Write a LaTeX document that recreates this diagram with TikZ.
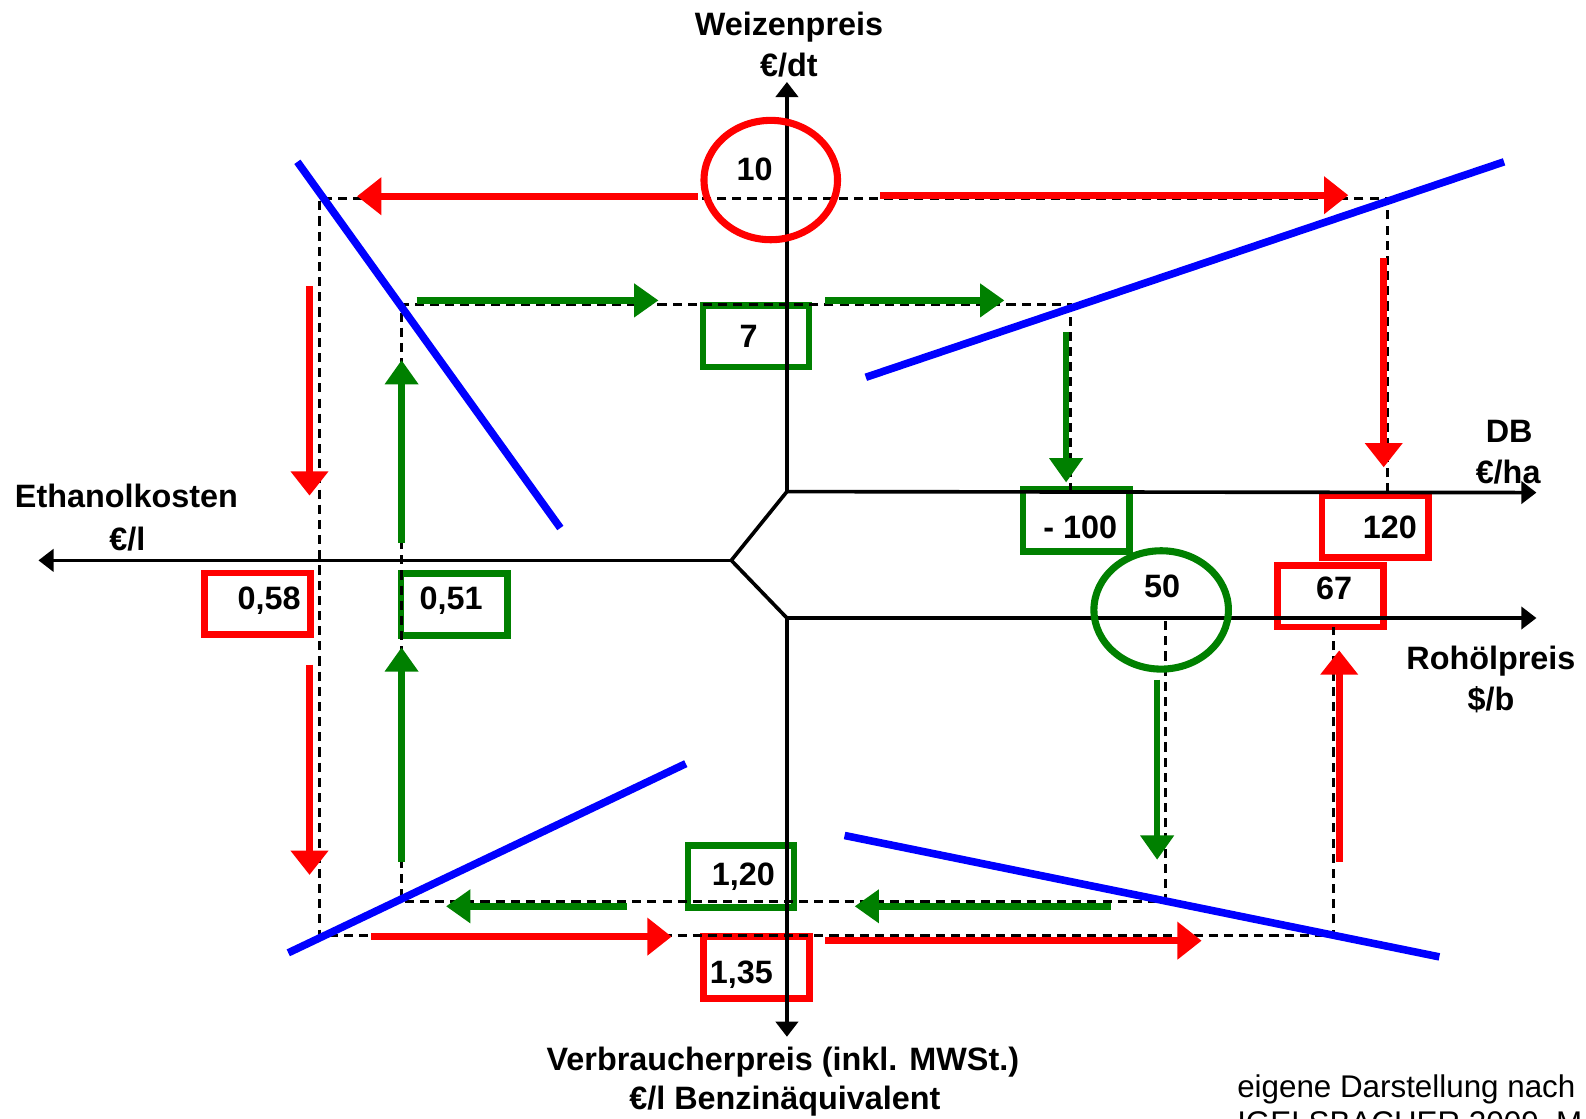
\documentclass[tikz,border=0pt]{standalone}
\usepackage{fontspec}
\setmainfont{Liberation Sans}
\usetikzlibrary{arrows.meta,shapes.geometric}
\definecolor{myred}{RGB}{255,0,0}
\definecolor{mygreen}{RGB}{0,128,0}
\definecolor{myblue}{RGB}{0,0,255}
\begin{document}
\begin{tikzpicture}[x=1pt,y=-1pt,
  axis/.style={line width=3.6pt},
  axisarrow/.style={axis,-{Triangle[length=15pt,width=22pt]}},
  guide/.style={line width=2.7pt,dash pattern=on 9pt off 6pt},
  curve/.style={myblue,line width=7.5pt},
  redarrow/.style={myred,line width=6.5pt,-{Triangle[length=24pt,width=36pt]}},
  greenarrow/.style={mygreen,line width=6.5pt,-{Triangle[length=24pt,width=32pt]}},
  valbox/.style={rectangle,line width=6.5pt,inner sep=0pt,minimum width=105pt,minimum height=61pt,fill=white},
  redbox/.style={valbox,draw=myred},
  greenbox/.style={valbox,draw=mygreen},
  ring/.style={ellipse,line width=7pt,inner sep=0pt},
  num/.style={font=\fontsize{32}{38}\selectfont\bfseries,anchor=base,inner sep=0pt},
  lbl/.style={font=\fontsize{32}{38}\selectfont\bfseries,anchor=base,inner sep=0pt},
  src/.style={font=\fontsize{31}{36}\selectfont,anchor=base west,inner sep=0pt},
]
\useasboundingbox (0,0) rectangle (1568,1106);

% guide coordinates
\coordinate (A) at (316,196);
\coordinate (B) at (1372,196);
\coordinate (C) at (316,925);
\coordinate (D) at (1318,925);
\coordinate (E) at (1318,620);
\coordinate (F) at (1372,487);
\coordinate (G) at (397,301);
\coordinate (H) at (1058,301);
\coordinate (I) at (397,891);
\coordinate (J) at (1152,891);
\coordinate (K) at (1152,611);
\coordinate (L) at (1058,487);

% boxes (drawn first, under guides)
\node[redbox] (b058) at (254.5,597) {};
\node[greenbox] (b051) at (449,597.5) {};
\node[greenbox] (b7) at (747.5,332.5) {};
\node[greenbox] (b100) at (1064,514.5) {};
\node[redbox] (b120) at (1359.5,520.5) {};
\node[redbox] (b67) at (1315.5,589.5) {};
\node[greenbox] (b120g) at (732.5,866.5) {};
\node[redbox] (b135) at (748,956.5) {};

% guides
\draw[guide] (F) -- (B) -- (A) -- (C) -- (D) -- (E);
\draw[guide] (L) -- (H) -- (G) -- (I) -- (J) -- (K);

% blue curves
\draw[curve] (294,160) -- (554,522);
\draw[curve] (856,373) -- (1487,160);
\draw[curve] (285,942) -- (678,755);
\draw[curve] (835,826) -- (1423,946);

% axes
\coordinate (O1) at (778,486);
\coordinate (O) at (723,554);
\coordinate (O2) at (778,611);
\coordinate (tTop) at (778,81);
\coordinate (tRight1) at (1519,487);
\coordinate (tLeft) at (38,554);
\coordinate (tRight2) at (1519,611);
\coordinate (tBottom) at (778,1025);
\draw[axis,line join=miter] (O1) -- (O) -- (O2);
\draw[axisarrow] (O1) -- (tTop);
\draw[axisarrow] (O1) -- (tRight1);
\draw[axisarrow] (O) -- (tLeft);
\draw[axisarrow] (O2) -- (tRight2);
\draw[axisarrow] (O2) -- (tBottom);

% rings
\node[ring,draw=myred,minimum width=132pt,minimum height=118pt] (e10) at (762,178) {};
\node[ring,draw=mygreen,minimum width=133pt,minimum height=117pt] (e50) at (1148,603) {};

% red arrows
\coordinate (r1s) at (690,194); \coordinate (r1e) at (353,194);
\coordinate (r2s) at (870,193); \coordinate (r2e) at (1333,193);
\coordinate (r3s) at (1368,255); \coordinate (r3e) at (1368,462);
\coordinate (r4s) at (1324,852); \coordinate (r4e) at (1324,643);
\coordinate (r5s) at (367,926); \coordinate (r5e) at (664,926);
\coordinate (r6s) at (816,930); \coordinate (r6e) at (1188,930);
\coordinate (r7s) at (306,283); \coordinate (r7e) at (306,490);
\coordinate (r8s) at (306,657); \coordinate (r8e) at (306,865);
\foreach \i in {1,...,8} {\draw[redarrow] (r\i s) -- (r\i e);}

% green arrows
\coordinate (g1s) at (412,297); \coordinate (g1e) at (651,297);
\coordinate (g2s) at (816,297); \coordinate (g2e) at (993,297);
\coordinate (g3s) at (1054,328); \coordinate (g3e) at (1054,477);
\coordinate (g4s) at (1144,672); \coordinate (g4e) at (1144,850);
\coordinate (g5s) at (1098,896); \coordinate (g5e) at (845,896);
\coordinate (g6s) at (620,896); \coordinate (g6e) at (441,896);
\coordinate (g7s) at (397,852); \coordinate (g7e) at (397,640);
\coordinate (g8s) at (397,537); \coordinate (g8e) at (397,356);
\foreach \i in {1,...,8} {\draw[greenarrow] (g\i s) -- (g\i e);}

% numbers
\node[num] (t10) at (746,178) {10};
\node[num] (t7) at (740,344) {7};
\node[num] (t100) at (1068,532) {- 100};
\node[num] (t50) at (1149,591) {50};
\node[num] (t120) at (1374,532) {120};
\node[num] (t67) at (1319,593) {67};
\node[num] (t058) at (266,603) {0,58};
\node[num] (t051) at (446,603) {0,51};
\node[num] (t120g) at (735,875) {1,20};
\node[num] (t135) at (733,972) {1,35};

% axis labels
\node[lbl] (wz1) at (780,35) {Weizenpreis};
\node[lbl] (wz2) at (780,76) {€/dt};
\node[lbl] (db1) at (1492,437) {DB};
\node[lbl] (db2) at (1491,478) {€/ha};
\node[lbl] (et1) at (125,502) {Ethanolkosten};
\node[lbl] (et2) at (126,544) {€/l};
\node[lbl] (ro1) at (1474,662) {Rohölpreis};
\node[lbl] (ro2) at (1474,702) {\$/b};
\node[lbl] (vp1) at (774,1058) {Verbraucherpreis (inkl. MWSt.)};
\node[lbl] (vp2) at (776,1097) {€/l Benzinäquivalent};

% source (second line is cut by the lower edge, as in the reference)
\node[src] (s1) at (1223,1085) {eigene Darstellung nach};
\node[src] (s2) at (1223,1121) {IGELSBACHER 2009, M};
\end{tikzpicture}
\end{document}
